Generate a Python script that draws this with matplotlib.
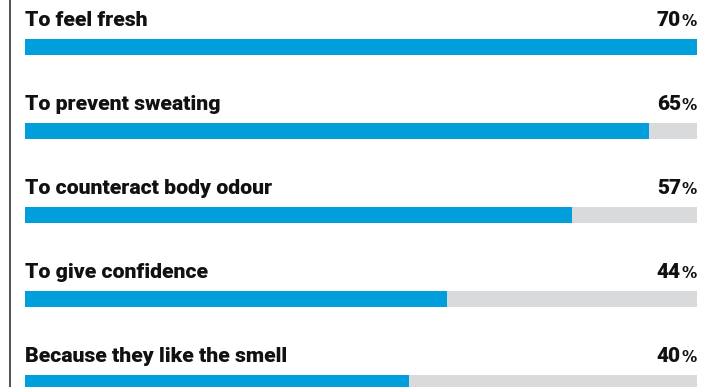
import matplotlib.pyplot as plt
from matplotlib.lines import Line2D

labels = ['To feel fresh', 'To prevent sweating', 'To counteract body odour',
          'To give confidence', 'Because they like the smell']
values = [70, 65, 57, 44, 40]
max_value = 70

BLUE = '#009fdb'
GREY = '#d9dadb'
W, H = 720, 387
ROW = 84.0

plt.rcParams['font.family'] = ['Roboto', 'DejaVu Sans']

fig = plt.figure(figsize=(W / 100, H / 100), dpi=100)
ax = fig.add_axes([25 / W, 0, 672 / W, 1])
ax.set_xlim(0, max_value)
ax.set_ylim(H / ROW, 0)
ax.axis('off')

bar_h = 16 / ROW
for i, (lab, v) in enumerate(zip(labels, values)):
    yc = (47 + ROW * i) / ROW
    ax.barh(yc, max_value, height=bar_h, color=GREY, zorder=1)
    ax.barh(yc, v, height=bar_h, color=BLUE, zorder=2)
    base = (26 + ROW * i) / ROW
    ax.text(0, base, lab, fontsize=15.3, fontweight='heavy', va='baseline',
            ha='left', color='#111111')
    ax.text(max_value, base, '%', fontsize=11, fontweight='bold',
            family='DejaVu Sans', va='baseline', ha='right', color='#111111')
    ax.annotate(str(v), xy=(max_value, base), xytext=(-11.6, 0),
                textcoords='offset points', fontsize=15, fontweight='heavy',
                va='baseline', ha='right', color='#111111')

fig.add_artist(Line2D([9.5 / W, 9.5 / W], [0, 1], color='#222222',
                      linewidth=1.1, transform=fig.transFigure))

fig.savefig('out.png', dpi=100)
